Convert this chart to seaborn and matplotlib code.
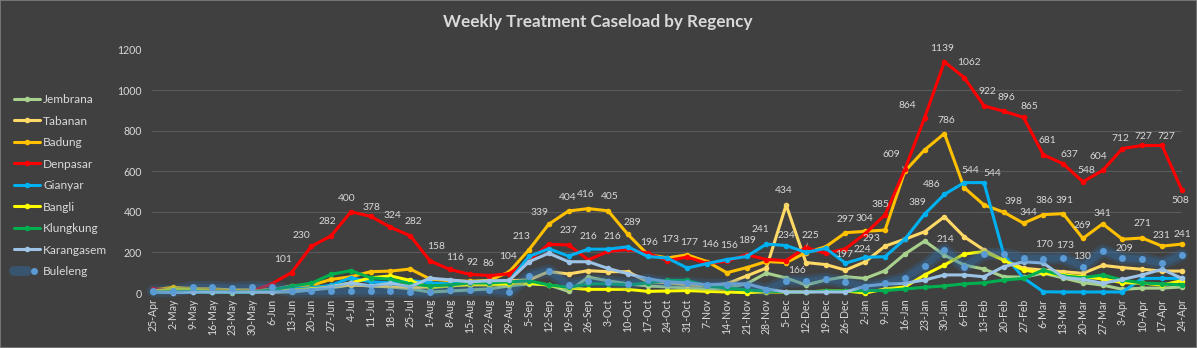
import matplotlib
matplotlib.use("Agg")
import matplotlib.pyplot as plt
import numpy as np
import pandas as pd
import seaborn as sns
from matplotlib.lines import Line2D
from matplotlib.legend_handler import HandlerTuple
from matplotlib.patches import Rectangle

# ---------------- data ----------------
weeks = ["25-Apr", "2-May", "9-May", "16-May", "23-May", "30-May", "6-Jun", "13-Jun", "20-Jun",
         "27-Jun", "4-Jul", "11-Jul", "18-Jul", "25-Jul", "1-Aug", "8-Aug", "15-Aug", "22-Aug",
         "29-Aug", "5-Sep", "12-Sep", "19-Sep", "26-Sep", "3-Oct", "10-Oct", "17-Oct", "24-Oct",
         "31-Oct", "7-Nov", "14-Nov", "21-Nov", "28-Nov", "5-Dec", "12-Dec", "19-Dec", "26-Dec",
         "2-Jan", "9-Jan", "16-Jan", "23-Jan", "30-Jan", "6-Feb", "13-Feb", "20-Feb", "27-Feb",
         "6-Mar", "13-Mar", "20-Mar", "27-Mar", "3-Apr", "10-Apr", "17-Apr", "24-Apr"]

jembrana = [5, 5, 10, 5, 2, 5, 5, 5, 15, 25, 40, 35, 30, 20, 5, 10, 15, 20, 35, 45, 40, 8, 78,
            60, 45, 35, 30, 25, 20, 25, 45, 98, 74, 40, 64, 80, 72, 110, 192, 256, 187, 138, 118,
            80, 78, 98, 74, 51, 39, 18, 24, 24, 30]
tabanan = [10, 25, 20, 20, 15, 15, 15, 35, 30, 30, 40, 35, 30, 25, 30, 35, 45, 50, 60, 65, 105,
           94, 110, 105, 105, 55, 50, 40, 35, 45, 84, 123, 434, 150, 140, 113, 154, 231, 265, 302,
           376, 277, 212, 162, 122, 113, 105, 97, 136, 125, 117, 108, 108]
badung = [15, 28, 22, 18, 12, 12, 15, 25, 38, 67, 80, 105, 108, 118, 69, 60, 58, 62, 104, 213,
          339, 404, 416, 405, 289, 190, 173, 188, 155, 100, 125, 155, 150, 199, 228, 297, 304,
          310, 600, 705, 786, 519, 434, 398, 344, 386, 391, 269, 341, 265, 271, 231, 241]
denpasar = [20, 15, 12, 10, 8, 10, 45, 101, 230, 282, 400, 378, 324, 282, 158, 116, 92, 86, 95,
            160, 240, 237, 163, 205, 215, 196, 160, 177, 146, 156, 189, 165, 160, 225, 195, 218,
            293, 385, 609, 864, 1139, 1062, 922, 896, 865, 681, 637, 548, 604, 712, 727, 727, 508]
gianyar = [5, 5, 5, 5, 5, 5, 10, 20, 25, 38, 75, 55, 50, 62, 50, 45, 50, 55, 60, 180, 218, 182,
           216, 216, 228, 180, 172, 123, 145, 165, 180, 241, 234, 200, 220, 147, 176, 179, 265,
           389, 486, 544, 544, 190, 74, 6, 5, 5, 5, 5, 72, 72, 72]
bangli = [10, 20, 15, 10, 10, 10, 10, 15, 20, 30, 50, 75, 84, 62, 25, 35, 40, 40, 45, 49, 39, 25,
          18, 18, 18, 8, 10, 12, 8, 5, 2, 5, 5, 5, 10, 10, 0, 20, 30, 89, 138, 192, 204, 162, 113,
          98, 89, 80, 69, 51, 49, 39, 61]
klungkung = [5, 5, 8, 5, 5, 5, 15, 34, 48, 92, 110, 75, 68, 44, 35, 40, 50, 50, 55, 60, 40, 28,
             45, 45, 40, 50, 62, 62, 35, 25, 15, 10, 5, 5, 10, 10, 12, 12, 20, 28, 35, 45, 50, 64,
             72, 113, 84, 75, 89, 64, 49, 45, 40]
karangasem = [5, 2, 5, 5, 5, 5, 5, 10, 15, 30, 50, 35, 48, 31, 73, 65, 55, 60, 62, 154, 196, 154,
              154, 121, 95, 70, 55, 50, 40, 45, 45, 20, 5, 5, 5, 5, 34, 44, 48, 64, 89, 89, 80, 130,
              154, 148, 77, 67, 48, 67, 89, 117, 72]
buleleng = [10, 10, 28, 28, 24, 28, 28, 8, 8, 8, 10, 10, 10, 5, 5, 15, 15, 15, 5, 84, 110, 39, 59,
            55, 45, 64, 48, 48, 39, 39, 39, 15, 59, 59, 69, 53, 31, 48, 72, 135, 214, 130, 192, 192,
            171, 170, 173, 130, 209, 172, 167, 146, 186]

regencies = ["Jembrana", "Tabanan", "Badung", "Denpasar", "Gianyar", "Bangli", "Klungkung",
             "Karangasem", "Buleleng"]
series = [jembrana, tabanan, badung, denpasar, gianyar, bangli, klungkung, karangasem, buleleng]

# data labels: week index and value shown
label_idx = [7, 8, 9, 10, 11, 12, 13, 14, 15, 16, 17, 18, 19, 20, 21, 22, 23, 24, 21, 22, 23, 25,
             26, 27, 28, 29, 30, 31, 32, 32, 33, 33, 35, 36, 35, 36, 36, 37, 38, 39, 40, 41, 42,
             43, 44, 45, 46, 47, 48, 49, 50, 51, 52, 40, 39, 40, 41, 42, 40, 43, 44, 45, 46, 47,
             48, 50, 51, 52, 48, 45, 46, 47]
label_val = [101, 230, 282, 400, 378, 324, 282, 158, 116, 92, 86, 104, 213, 339, 404, 416, 405,
             289, 237, 216, 216, 196, 173, 177, 146, 156, 189, 241, 434, 234, 166, 225, 297, 304,
             197, 293, 224, 385, 609, 864, 1139, 1062, 922, 896, 865, 681, 637, 548, 604, 712, 727,
             727, 508, 786, 389, 486, 544, 544, 214, 398, 344, 386, 391, 269, 341, 271, 231, 241,
             209, 170, 173, 130]

# ---------------- layout / style ----------------
label_dx = [-8, -10, -4, -4, 1, 2, 3, 6, 5, 3, -1, -1, -7, -9, -1, -3, 2, 5, 0, 0, 4, 1, 3, 2,
            3, 2, 1, -6, -2, 0, -9, 5, 0, -1, -1, 6, -3, -5, -13, -17, -2, 5, 3, 3, 6, 4, 6, 3,
            -4, -2, 1, 4, -2, 2, -7, -13, 6, 8, 1, 10, 5, 1, 1, 0, 0, 0, -1, 1, 22, 1, 2, -1]
label_dy = [13, 11, 14, 13, 9, 12, 14, 14, 12, 12, 12, 15, 13, 12, 14, 14, 14, 12, 14, 13, 13, 11,
            18, 15, 19, 16, 14, 15, 14, 10, -11, 12, 13, 13, -1, -5, -2, 10, 15, 12, 13, 15, 14, 14,
            11, 14, 9, 11, 14, 10, 9, 9, -11, 13, 12, 10, 12, 9, 10, 11, 11, 14, 13, 13, 10, 15,
            11, 10, 2, 14, 12, 10]
leader = {38, 26, 28, 31}

BG = "#404040"
TXT = "#D9D9D9"
GRID = "#5A5A5A"
colors = {"Jembrana": "#A9D18E", "Tabanan": "#FFD966", "Badung": "#FFC000", "Denpasar": "#FF0000",
          "Gianyar": "#00B0F0", "Bangli": "#FFFF00", "Klungkung": "#00B050",
          "Karangasem": "#9DC3E6", "Buleleng": "#5B9BD5"}

sns.set_theme(style="dark")
plt.rcParams["font.family"] = ["Lato", "DejaVu Sans"]

W, H = 1197, 348
fig = plt.figure(figsize=(W / 100, H / 100), dpi=100, facecolor=BG)
ax = fig.add_axes([151.5 / W, 1 - 293 / H, (1182 - 151.5) / W, (293 - 49.5) / H])
ax.set_facecolor(BG)

df = pd.DataFrame({
    "week": np.tile(np.arange(len(weeks)), len(regencies)),
    "regency": np.repeat(regencies, len(weeks)),
    "cases": np.concatenate([np.asarray(s, dtype=float) for s in series]),
})

handles = []
for name in regencies:
    sub = df[df["regency"] == name]
    c = colors[name]
    if name == "Buleleng":
        sns.lineplot(data=sub, x="week", y="cases", ax=ax, color="#2E75B6", linewidth=9,
                     alpha=0.22, errorbar=None, legend=False, solid_capstyle="round", clip_on=False)
        sns.lineplot(data=sub, x="week", y="cases", ax=ax, color="#2E75B6", linewidth=5,
                     alpha=0.3, errorbar=None, legend=False, solid_capstyle="round", clip_on=False)
        sns.lineplot(data=sub, x="week", y="cases", ax=ax, color=c, linewidth=0, marker="o",
                     markersize=5, markeredgewidth=0, errorbar=None, legend=False, clip_on=False)
        h = (Line2D([], [], color="#2E75B6", lw=7, alpha=0.4),
             Line2D([], [], color=c, lw=0, marker="o", markersize=5, markeredgewidth=0))
    else:
        sns.lineplot(data=sub, x="week", y="cases", ax=ax, color=c, linewidth=2.2, marker="o",
                     markersize=4, markeredgewidth=0, errorbar=None, legend=False, clip_on=False)
        h = Line2D([], [], color=c, lw=2.2, marker="o", markersize=4, markeredgewidth=0)
    handles.append(h)

for k, (i, v, dx, dy) in enumerate(zip(label_idx, label_val, label_dx, label_dy)):
    kw = {}
    if k in leader:
        kw["arrowprops"] = dict(arrowstyle="-", color="#A6A6A6", lw=0.6, shrinkA=4, shrinkB=1)
    ax.annotate(str(v), (i, v), xytext=(dx, dy), textcoords="offset pixels", ha="center",
                va="center", fontsize=7.4, color=TXT, **kw)

ax.set_xlim(-0.08, len(weeks) - 1 + 0.01)
ax.set_ylim(0, 1200)
ax.set_yticks(range(0, 1201, 200))
ax.set_xticks(range(len(weeks)))
ax.set_xticklabels(weeks, rotation=90)
ax.set_xlabel("")
ax.set_ylabel("")
ax.tick_params(axis="both", length=0, colors=TXT, labelsize=7.6)
ax.tick_params(axis="y", pad=7)
ax.tick_params(axis="x", pad=4)
ax.grid(axis="y", color=GRID, linewidth=0.8)
ax.grid(axis="x", visible=False)
for s in ax.spines.values():
    s.set_visible(False)
ax.set_axisbelow(True)

fig.text(0.4996, 1 - 22 / H, "Weekly Treatment Caseload by Regency", ha="center", va="center",
         fontsize=12.3, fontweight="bold", color=TXT)

fig.legend(handles, regencies, loc="upper left", bbox_to_anchor=(14 / W, 1 - 94 / H),
           frameon=False, fontsize=8.6, labelcolor=TXT, handlelength=2.2, handletextpad=0.25,
           labelspacing=0.88, borderpad=0, borderaxespad=0,
           handler_map={tuple: HandlerTuple(ndivide=None)})

fig.patches.append(Rectangle((0, 0), 1, 1, transform=fig.transFigure, fill=False,
                             edgecolor="#7F7F7F", lw=1.2))

fig.savefig("out.png", dpi=100, facecolor=BG)
